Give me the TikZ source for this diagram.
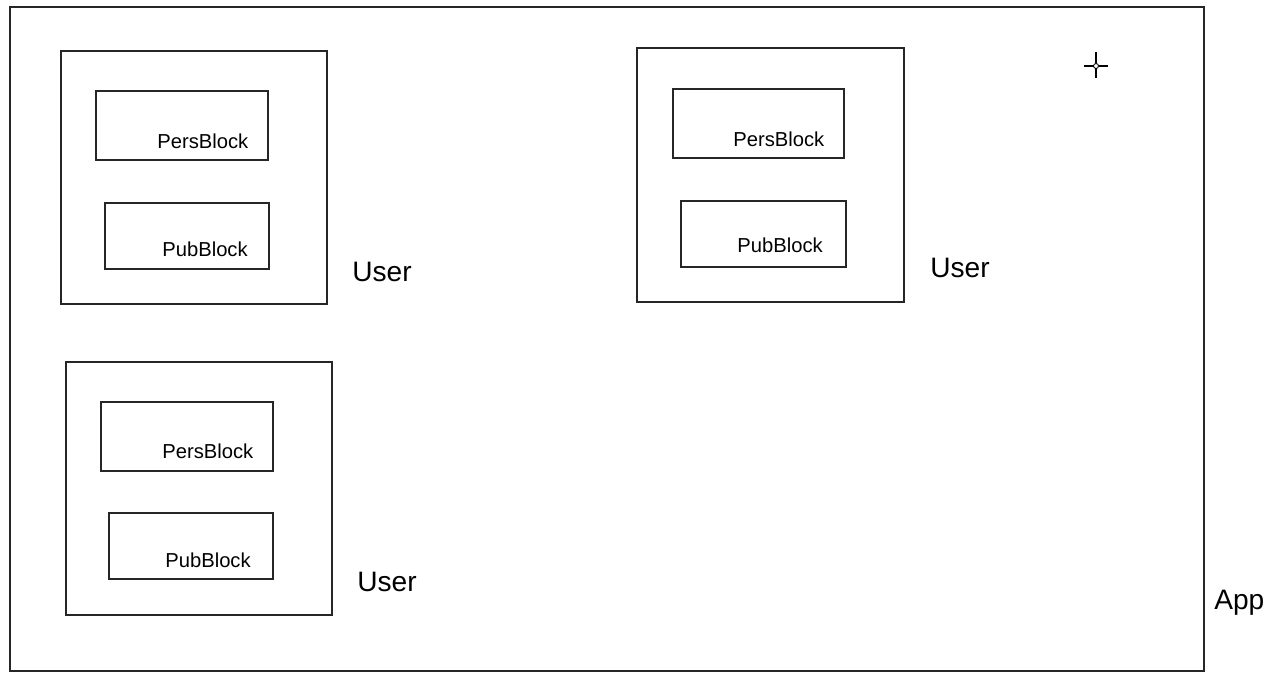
\documentclass[tikz,border=0pt]{standalone}
\usepackage{fontspec}
\setmainfont{Liberation Sans}
\usetikzlibrary{fit}
\begin{document}
\begin{tikzpicture}[x=0.02cm,y=-0.02cm,
  box/.style={draw=black!85, line width=0.6pt, inner sep=0pt},
  small/.style={inner sep=0pt, anchor=base west, font=\fontsize{11.5}{14}\selectfont},
  big/.style={inner sep=0pt, anchor=base west, font=\fontsize{16}{19}\selectfont}]
\useasboundingbox (0,0) rectangle (1274,685);
% App
\node[box, fit={(10,7)(1204,671)}] (app) {};
\node[big] (applbl) at (1214,609) {App};
% User 1
\node[box, fit={(61,51)(327,304)}] (u1) {};
\node[box, fit={(96,91)(268,160)}] (pers1) {};
\node[box, fit={(105,203)(269,269)}] (pub1) {};
\node[small] (pers1t) at (157,149) {PersBlock};
\node[small] (pub1t) at (162,257) {PubBlock};
\node[big] (u1t) at (352,282) {User};
% User 2
\node[box, fit={(637,48)(904,302)}] (u2) {};
\node[box, fit={(673,89)(844,158)}] (pers2) {};
\node[box, fit={(681,201)(846,267)}] (pub2) {};
\node[small] (pers2t) at (733,147) {PersBlock};
\node[small] (pub2t) at (737,253) {PubBlock};
\node[big] (u2t) at (930,278) {User};
% User 3
\node[box, fit={(66,362)(332,615)}] (u3) {};
\node[box, fit={(101,402)(273,471)}] (pers3) {};
\node[box, fit={(109,513)(273,579)}] (pub3) {};
\node[small] (pers3t) at (162,459) {PersBlock};
\node[small] (pub3t) at (165,567) {PubBlock};
\node[big] (u3t) at (357,591) {User};
% cursor crosshair
\coordinate (cc) at (1096,66);
\draw[line width=0.6pt] (1084,66) -- (1093.5,66) (1098.5,66) -- (1108,66)
  (1096,52) -- (1096,63.5) (1096,68.5) -- (1096,78);
\draw[line width=0.5pt] (cc) circle[radius=0.05cm];
\end{tikzpicture}
\end{document}
